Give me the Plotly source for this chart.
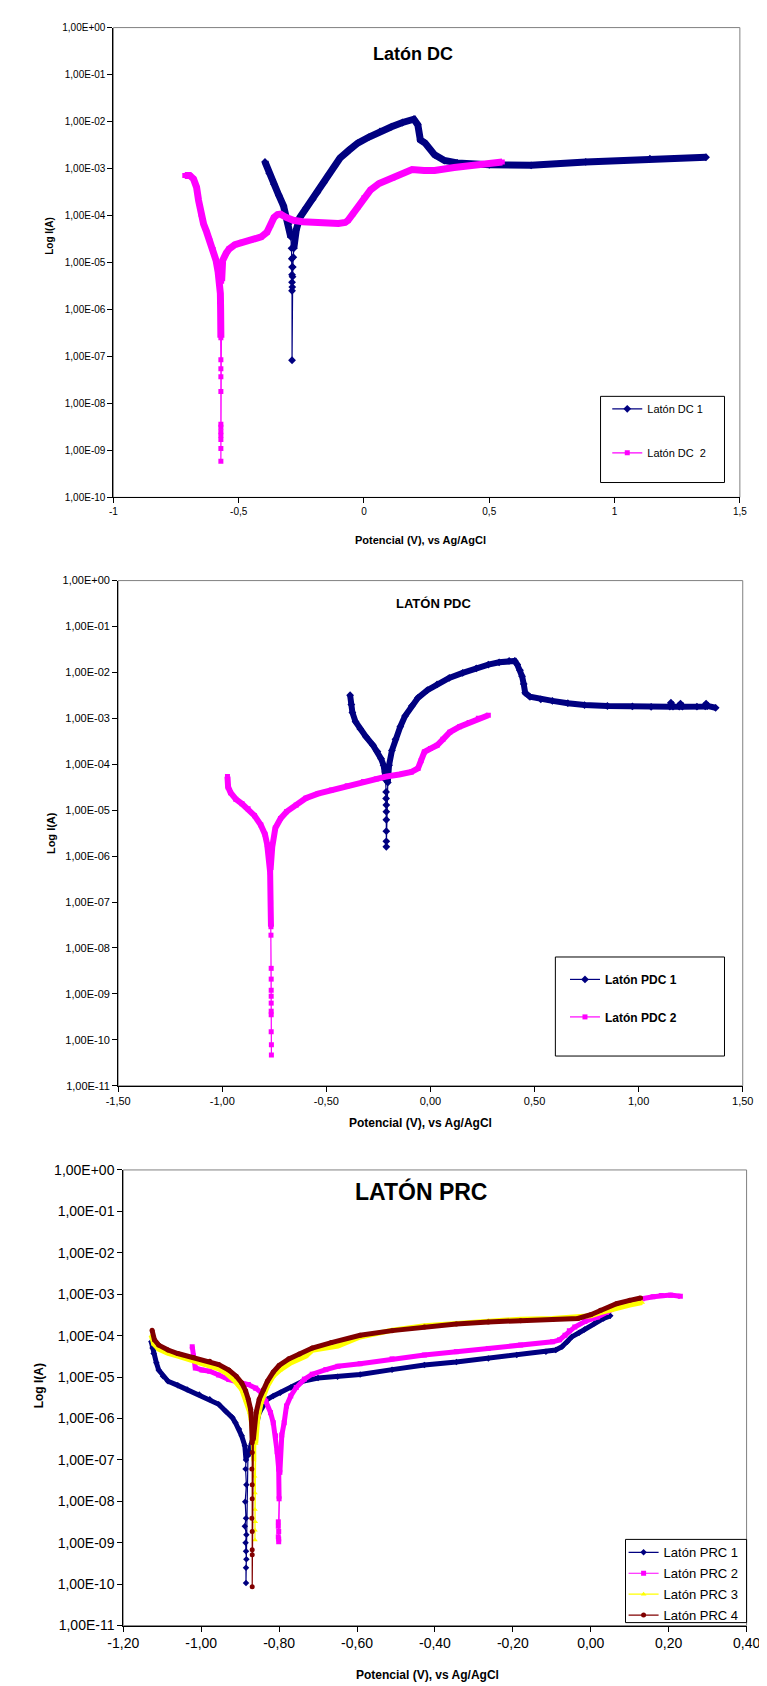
import plotly.graph_objects as go

# ---------------- DATA ----------------
# Chart 1: Latón DC
dc1_cat_E = [-0.395, -0.378, -0.359, -0.340, -0.321, -0.301, -0.292]
dc1_cat_I = [1.38e-3, 7.9e-4, 4.6e-4, 2.7e-4, 1.6e-4, 6.6e-5, 3.5e-5]
dc1_tail_E = [-0.289, -0.288, -0.287, -0.287, -0.287, -0.287, -0.287, -0.286, -0.285, -0.284, -0.282]
dc1_tail_I = [2.0e-5, 1.2e-5, 8.0e-6, 5.5e-6, 3.8e-6, 2.5e-6, 8.3e-8, 3.0e-6, 5.0e-6, 8.0e-6, 1.3e-5]
dc1_an_E = [-0.280, -0.270, -0.256, -0.230, -0.205, -0.186, -0.160, -0.141, -0.118, -0.096, -0.060,
            -0.025, 0.020, 0.064, 0.110, 0.154, 0.199, 0.215, 0.225, 0.244, 0.282, 0.321, 0.372,
            0.500, 0.667, 0.885, 1.141, 1.365]
dc1_an_I = [2.0e-5, 5.0e-5, 9.1e-5, 1.48e-4, 2.19e-4, 3.09e-4, 5.0e-4, 7.4e-4, 1.12e-3, 1.66e-3, 2.45e-3,
            3.47e-3, 4.68e-3, 6.17e-3, 7.76e-3, 9.55e-3, 1.12e-2, 8.5e-3, 4.07e-3, 3.47e-3, 1.95e-3, 1.48e-3, 1.32e-3,
            1.20e-3, 1.17e-3, 1.38e-3, 1.62e-3, 1.74e-3]

dc2_cat_E = [-0.715, -0.695, -0.680, -0.668, -0.660, -0.650, -0.640, -0.628, -0.615, -0.602, -0.590,
             -0.582, -0.576, -0.573, -0.572, -0.571]
dc2_cat_I = [7.1e-4, 7.1e-4, 6.0e-4, 4.0e-4, 2.1e-4, 1.07e-4, 6.6e-5, 4.5e-5, 2.9e-5, 1.9e-5, 1.1e-5,
             6.3e-6, 4.0e-6, 2.2e-6, 1.0e-6, 2.5e-7]
dc2_tail_E = [-0.571, -0.571, -0.571, -0.571, -0.571, -0.571, -0.571, -0.571, -0.571, -0.571, -0.571]
dc2_tail_I = [8.5e-8, 5.5e-8, 3.7e-8, 1.8e-8, 3.6e-9, 3.1e-9, 2.5e-9, 2.1e-9, 1.7e-9, 1.1e-9, 5.9e-10]
dc2_an_E = [-0.568, -0.564, -0.550, -0.538, -0.515, -0.487, -0.450, -0.410, -0.387, -0.372, -0.359,
            -0.345, -0.333, -0.310, -0.282, -0.245, -0.205, -0.150, -0.102, -0.075, -0.064, -0.045,
            -0.025, 0.000, 0.026, 0.060, 0.115, 0.192, 0.240, 0.282, 0.360, 0.436, 0.552]
dc2_an_I = [4.0e-6, 1.1e-5, 1.58e-5, 1.95e-5, 2.4e-5, 2.7e-5, 3.0e-5, 3.5e-5, 4.4e-5, 6.3e-5, 9.1e-5,
            1.05e-4, 1.07e-4, 9.1e-5, 7.9e-5, 7.4e-5, 7.1e-5, 6.8e-5, 6.8e-5, 7.1e-5, 7.8e-5, 1.07e-4,
            1.48e-4, 2.4e-4, 3.5e-4, 4.8e-4, 6.3e-4, 9.5e-4, 9.1e-4, 9.1e-4, 1.05e-3, 1.2e-3, 1.38e-3]

# Chart 2: Latón PDC
pdc1_cat_E = [-0.386, -0.380, -0.375, -0.360, -0.337, -0.310, -0.276, -0.255, -0.237, -0.225, -0.217, -0.214]
pdc1_cat_I = [3.2e-3, 2.0e-3, 1.35e-3, 8.5e-4, 5.9e-4, 4.0e-4, 2.6e-4, 1.9e-4, 1.32e-4, 9.5e-5, 6.8e-5, 4.5e-5]
pdc1_tail_E = [-0.213, -0.213, -0.212, -0.212, -0.212, -0.212, -0.212, -0.212]
pdc1_tail_I = [2.5e-5, 1.8e-5, 1.3e-5, 9.3e-6, 6.2e-6, 3.5e-6, 2.1e-6, 1.6e-6]
pdc1_an_E = [-0.205, -0.199, -0.185, -0.168, -0.145, -0.122, -0.090, -0.060, -0.015, 0.032, 0.090, 0.155,
             0.220, 0.278, 0.330, 0.378, 0.405, 0.417, 0.430, 0.440, 0.448, 0.455, 0.478, 0.530, 0.586,
             0.660, 0.740, 0.850, 0.970, 1.060, 1.150, 1.155, 1.165, 1.195, 1.201, 1.210, 1.280, 1.320,
             1.324, 1.330, 1.370]
pdc1_an_I = [4.0e-5, 9.5e-5, 2.0e-4, 3.5e-4, 6.6e-4, 1.12e-3, 1.86e-3, 2.8e-3, 4.1e-3, 5.5e-3, 7.6e-3, 9.8e-3,
             1.23e-2, 1.48e-2, 1.66e-2, 1.78e-2, 1.78e-2, 1.48e-2, 1.12e-2, 8.3e-3, 5.6e-3, 3.6e-3, 2.95e-3,
             2.6e-3, 2.4e-3, 2.14e-3, 1.95e-3, 1.86e-3, 1.82e-3, 1.78e-3, 1.80e-3, 2.2e-3, 1.80e-3, 1.80e-3,
             2.1e-3, 1.80e-3, 1.80e-3, 1.82e-3, 2.1e-3, 1.86e-3, 1.70e-3]

pdc2_cat_E = [-0.975, -0.972, -0.960, -0.935, -0.905, -0.876, -0.845, -0.815, -0.795, -0.784, -0.776,
              -0.770, -0.768, -0.766]
pdc2_cat_I = [5.4e-5, 3.2e-5, 2.4e-5, 1.74e-5, 1.38e-5, 1.07e-5, 7.6e-6, 4.8e-6, 3.0e-6, 1.78e-6, 1.0e-6,
              4.5e-7, 1.0e-7, 2.9e-8]
pdc2_tail_E = [-0.766, -0.765, -0.765, -0.765, -0.765, -0.765, -0.765, -0.765, -0.765, -0.764, -0.764]
pdc2_tail_I = [1.9e-8, 3.6e-9, 2.1e-9, 1.2e-9, 8.9e-10, 6.3e-10, 4.2e-10, 3.5e-10, 1.5e-10, 7.8e-11, 4.7e-11]
pdc2_an_E = [-0.768, -0.760, -0.745, -0.720, -0.691, -0.645, -0.599, -0.540, -0.476, -0.400, -0.322,
             -0.260, -0.214, -0.150, -0.091, -0.060, -0.045, -0.029, 0.000, 0.032, 0.060, 0.093, 0.140,
             0.186, 0.230, 0.278]
pdc2_an_I = [5.0e-7, 1.58e-6, 4.1e-6, 6.6e-6, 9.3e-6, 1.29e-5, 1.82e-5, 2.3e-5, 2.75e-5, 3.4e-5, 4.2e-5,
             4.8e-5, 5.4e-5, 6.0e-5, 6.8e-5, 8.1e-5, 1.2e-4, 1.86e-4, 2.2e-4, 2.6e-4, 3.5e-4, 5.0e-4, 6.6e-4,
             8.1e-4, 1.0e-3, 1.17e-3]

# Chart 3: Latón PRC
prc1_cat_E = [-1.128, -1.125, -1.122, -1.115, -1.109, -1.098, -1.085, -1.060, -1.036, -1.005, -0.978,
              -0.955, -0.937, -0.920, -0.912, -0.903, -0.896, -0.888, -0.885]
prc1_cat_I = [7.1e-5, 5.0e-5, 3.7e-5, 2.2e-5, 1.48e-5, 1.05e-5, 7.9e-6, 6.3e-6, 5.0e-6, 3.8e-6, 2.9e-6,
              2.2e-6, 1.5e-6, 1.05e-6, 7.9e-7, 5.6e-7, 3.8e-7, 2.2e-7, 1.0e-7]
prc1_tail_E = [-0.886, -0.884, -0.887, -0.885, -0.888, -0.884, -0.886, -0.885, -0.884, -0.885, -0.885]
prc1_tail_I = [6.0e-8, 2.5e-8, 9.8e-9, 3.9e-9, 2.5e-9, 1.55e-9, 1.0e-9, 6.2e-10, 4.0e-10, 2.5e-10, 1.07e-10]
prc1_an_E = [-0.880, -0.870, -0.863, -0.851, -0.840, -0.830, -0.815, -0.797, -0.770, -0.740, -0.700,
             -0.650, -0.592, -0.510, -0.427, -0.345, -0.263, -0.190, -0.115, -0.090, -0.074, -0.060,
             -0.049, -0.030, -0.016, 0.010, 0.033, 0.050]
prc1_an_I = [1.26e-7, 2.5e-7, 4.6e-7, 1.38e-6, 2.2e-6, 2.9e-6, 3.5e-6, 4.2e-6, 5.6e-6, 7.9e-6, 9.5e-6,
             1.02e-5, 1.15e-5, 1.51e-5, 1.95e-5, 2.3e-5, 2.8e-5, 3.4e-5, 4.1e-5, 4.5e-5, 5.4e-5, 7.1e-5,
             9.3e-5, 1.17e-4, 1.41e-4, 2.0e-4, 2.6e-4, 3.0e-4]

prc2_cat_E = [-1.023, -1.020, -1.015, -0.998, -0.978, -0.955, -0.929, -0.905, -0.879, -0.860, -0.846,
              -0.834, -0.822, -0.815, -0.809, -0.805, -0.801, -0.800]
prc2_cat_I = [5.4e-5, 3.2e-5, 1.66e-5, 1.48e-5, 1.38e-5, 1.12e-5, 8.7e-6, 7.6e-6, 6.6e-6, 5.4e-6, 4.2e-6,
              2.6e-6, 1.38e-6, 7.9e-7, 3.8e-7, 1.58e-7, 6.0e-8, 1.15e-8]
prc2_tail_E = [-0.802, -0.802, -0.801, -0.802, -0.801, -0.801]
prc2_tail_I = [3.2e-9, 2.5e-9, 1.86e-9, 1.4e-9, 1.23e-9, 1.05e-9]
prc2_an_E = [-0.798, -0.793, -0.787, -0.781, -0.770, -0.756, -0.735, -0.715, -0.680, -0.649, -0.592,
             -0.510, -0.427, -0.345, -0.263, -0.180, -0.098, -0.080, -0.066, -0.055, -0.041, -0.015,
             0.017, 0.040, 0.066, 0.100, 0.132, 0.160, 0.181, 0.205, 0.230]
prc2_an_I = [5.0e-8, 4.0e-7, 7.9e-7, 2.0e-6, 3.5e-6, 5.6e-6, 8.9e-6, 1.17e-5, 1.51e-5, 1.82e-5, 2.1e-5,
             2.75e-5, 3.4e-5, 4.1e-5, 4.9e-5, 5.9e-5, 7.1e-5, 7.9e-5, 1.02e-4, 1.32e-4, 1.62e-4, 2.2e-4,
             2.8e-4, 3.6e-4, 4.9e-4, 6.3e-4, 7.8e-4, 8.7e-4, 9.3e-4, 9.5e-4, 8.9e-4]

prc3_cat_E = [-1.128, -1.122, -1.109, -1.085, -1.060, -1.020, -0.978, -0.955, -0.937, -0.915, -0.896,
              -0.885, -0.875, -0.870, -0.867, -0.865]
prc3_cat_I = [1.0e-4, 6.3e-5, 4.7e-5, 3.7e-5, 3.2e-5, 2.5e-5, 1.95e-5, 1.58e-5, 1.26e-5, 8.3e-6, 5.0e-6,
              2.8e-6, 1.38e-6, 7.1e-7, 3.8e-7, 1.0e-7]
prc3_tail_E = [-0.863, -0.862, -0.862, -0.861, -0.862, -0.862]
prc3_tail_I = [4.0e-8, 1.58e-8, 6.3e-9, 3.2e-9, 2.0e-9, 1.17e-9]
prc3_an_E = [-0.860, -0.855, -0.846, -0.830, -0.815, -0.797, -0.770, -0.731, -0.715, -0.649, -0.592,
             -0.510, -0.427, -0.345, -0.263, -0.180, -0.098, -0.033, 0.000, 0.025, 0.066, 0.100, 0.132]
prc3_an_I = [2.5e-7, 9.5e-7, 2.4e-6, 6.0e-6, 1.05e-5, 1.48e-5, 2.2e-5, 3.2e-5, 4.4e-5, 5.6e-5, 9.3e-5,
             1.35e-4, 1.74e-4, 2.0e-4, 2.3e-4, 2.5e-4, 2.6e-4, 2.75e-4, 3.0e-4, 3.6e-4, 4.7e-4, 5.5e-4, 6.3e-4]

prc4_cat_E = [-1.126, -1.120, -1.109, -1.085, -1.060, -1.020, -0.978, -0.955, -0.929, -0.910, -0.896,
              -0.886, -0.879, -0.873, -0.871, -0.869]
prc4_cat_I = [1.35e-4, 7.9e-5, 5.9e-5, 4.5e-5, 3.7e-5, 2.95e-5, 2.4e-5, 2.0e-5, 1.48e-5, 1.05e-5, 7.2e-6,
              4.7e-6, 2.9e-6, 1.66e-6, 9.5e-7, 2.6e-7]
prc4_tail_E = [-0.869, -0.870, -0.869, -0.869, -0.870, -0.869, -0.869, -0.869, -0.869]
prc4_tail_I = [1.5e-7, 6.0e-8, 2.5e-8, 1.15e-8, 3.9e-9, 1.86e-9, 6.8e-10, 5.1e-10, 8.7e-11]
prc4_an_E = [-0.866, -0.859, -0.851, -0.840, -0.830, -0.815, -0.800, -0.775, -0.748, -0.715, -0.666,
             -0.592, -0.510, -0.427, -0.345, -0.263, -0.180, -0.098, -0.033, 0.000, 0.025, 0.066, 0.100, 0.128]
prc4_an_I = [3.2e-7, 1.38e-6, 2.9e-6, 5.0e-6, 7.9e-6, 1.32e-5, 1.9e-5, 2.75e-5, 3.6e-5, 5.0e-5, 6.8e-5,
             1.02e-4, 1.32e-4, 1.62e-4, 1.9e-4, 2.14e-4, 2.3e-4, 2.45e-4, 2.6e-4, 3.2e-4, 4.1e-4, 5.9e-4,
             7.1e-4, 8.1e-4]

# tick labels
x1_ticks = [-1, -0.5, 0, 0.5, 1, 1.5]
x1_text = ["-1", "-0,5", "0", "0,5", "1", "1,5"]
x2_ticks = [-1.5, -1.0, -0.5, 0.0, 0.5, 1.0, 1.5]
x2_text = ["-1,50", "-1,00", "-0,50", "0,00", "0,50", "1,00", "1,50"]
x3_ticks = [-1.2, -1.0, -0.8, -0.6, -0.4, -0.2, 0.0, 0.2, 0.4]
x3_text = ["-1,20", "-1,00", "-0,80", "-0,60", "-0,40", "-0,20", "0,00", "0,20", "0,40"]
y_exp = list(range(0, -12, -1))
y_ticks = [10.0 ** e for e in y_exp]
y_text = ["1,00E+00"] + ["1,00E-%02d" % (-e) for e in y_exp[1:]]

# ---------------- FIGURE ----------------
W, H = 767, 1686
FONT = "Liberation Sans, Arial, sans-serif"
NAVY, MAG, YEL, BRN = "#000080", "#FF00FF", "#FFFF00", "#800000"

fig = go.Figure()


def add_series(name, cat, tail, an, color, symbol, msize, band, xa, ya, legend, group):
    cE, cI = cat
    tE, tI = tail
    aE, aI = an
    for E, I in ((cE, cI), (aE, aI)):
        fig.add_trace(go.Scatter(x=E, y=I, mode="lines", xaxis=xa, yaxis=ya,
                                 line=dict(color=color, width=band), showlegend=False,
                                 hoverinfo="skip", legendgroup=group))
    fig.add_trace(go.Scatter(x=cE + tE + aE, y=cI + tI + aI, mode="lines+markers", name=name,
                             xaxis=xa, yaxis=ya, legend=legend, legendgroup=group,
                             line=dict(color=color, width=1.2),
                             marker=dict(color=color, symbol=symbol, size=msize)))


add_series("Latón DC 1", (dc1_cat_E, dc1_cat_I), (dc1_tail_E, dc1_tail_I), (dc1_an_E, dc1_an_I),
           NAVY, "diamond", 6, 7, "x", "y", "legend", "a1")
add_series("Latón DC  2", (dc2_cat_E, dc2_cat_I), (dc2_tail_E, dc2_tail_I), (dc2_an_E, dc2_an_I),
           MAG, "square", 5, 7, "x", "y", "legend", "a2")
add_series("Latón PDC 1", (pdc1_cat_E, pdc1_cat_I), (pdc1_tail_E, pdc1_tail_I), (pdc1_an_E, pdc1_an_I),
           NAVY, "diamond", 6, 6, "x2", "y2", "legend2", "b1")
add_series("Latón PDC 2", (pdc2_cat_E, pdc2_cat_I), (pdc2_tail_E, pdc2_tail_I), (pdc2_an_E, pdc2_an_I),
           MAG, "square", 5, 6, "x2", "y2", "legend2", "b2")
add_series("Latón PRC 1", (prc1_cat_E, prc1_cat_I), (prc1_tail_E, prc1_tail_I), (prc1_an_E, prc1_an_I),
           NAVY, "diamond", 5, 5, "x3", "y3", "legend3", "c1")
add_series("Latón PRC 2", (prc2_cat_E, prc2_cat_I), (prc2_tail_E, prc2_tail_I), (prc2_an_E, prc2_an_I),
           MAG, "square", 5, 5, "x3", "y3", "legend3", "c2")
add_series("Latón PRC 3", (prc3_cat_E, prc3_cat_I), (prc3_tail_E, prc3_tail_I), (prc3_an_E, prc3_an_I),
           YEL, "triangle-up", 5, 5, "x3", "y3", "legend3", "c3")
add_series("Latón PRC 4", (prc4_cat_E, prc4_cat_I), (prc4_tail_E, prc4_tail_I), (prc4_an_E, prc4_an_I),
           BRN, "circle", 5, 5, "x3", "y3", "legend3", "c4")


def px_dom(a, b, total, flip=False):
    if flip:
        return [1 - b / total, 1 - a / total]
    return [a / total, b / total]


def xaxis(dom, rng, tv, tt, fs, anchor):
    return dict(domain=dom, range=rng, tickvals=tv, ticktext=tt, showgrid=False, zeroline=False,
                showline=True, linecolor="black", linewidth=1, ticks="outside", ticklen=5,
                tickcolor="black", tickfont=dict(family=FONT, size=fs, color="black"), anchor=anchor,
                fixedrange=True)


def yaxis(dom, lo, fs, anchor):
    n = -lo + 1
    return dict(domain=dom, type="log", range=[lo, 0], tickvals=y_ticks[:n], ticktext=y_text[:n],
                showgrid=False, zeroline=False, showline=True, linecolor="black", linewidth=1,
                ticks="outside", ticklen=5, tickcolor="black",
                tickfont=dict(family=FONT, size=fs, color="black"), anchor=anchor, fixedrange=True)


fig.update_layout(
    width=W, height=H, margin=dict(l=0, r=0, t=0, b=0),
    paper_bgcolor="white", plot_bgcolor="white", showlegend=True,
    xaxis=xaxis(px_dom(93, 745, W), [-1, 1.5], x1_ticks, x1_text, 10, "y"),
    yaxis=yaxis(px_dom(11.7, 486, H, True), -10, 10, "x"),
    xaxis2=xaxis(px_dom(98, 748, W), [-1.5, 1.5], x2_ticks, x2_text, 11, "y2"),
    yaxis2=yaxis(px_dom(570, 1080, H, True), -11, 11, "x2"),
    xaxis3=xaxis(px_dom(103.3, 752, W), [-1.2, 0.4], x3_ticks, x3_text, 14, "y3"),
    yaxis3=yaxis(px_dom(1165, 1625, H, True), -11, 14, "x3"),
    legend=dict(x=607 / W, y=1 - 382 / H, xanchor="left", yanchor="top", bgcolor="rgba(0,0,0,0)",
                font=dict(family=FONT, size=11, color="black"), tracegroupgap=25, traceorder="grouped"),
    legend2=dict(x=563 / W, y=1 - 958 / H, xanchor="left", yanchor="top", bgcolor="rgba(0,0,0,0)",
                 font=dict(family=FONT, size=12, color="black", weight="bold"), tracegroupgap=18.5,
                 traceorder="grouped"),
    legend3=dict(x=624 / W, y=1 - 1536 / H, xanchor="left", yanchor="top", bgcolor="rgba(0,0,0,0)",
                 font=dict(family=FONT, size=13, color="black"), tracegroupgap=1, traceorder="grouped"),
)

shapes = []
for xr, yr in (("x", "y"), ("x2", "y2"), ("x3", "y3")):
    shapes.append(dict(type="rect", xref=xr + " domain", yref=yr + " domain", x0=0, x1=1, y0=0, y1=1,
                       line=dict(color="#808080", width=1), layer="below"))
for (x0, x1, y0, y1) in ((600, 729, 384, 471), (553, 729, 950, 1050), (626, 752, 1538, 1622)):
    shapes.append(dict(type="rect", xref="paper", yref="paper", x0=x0 / W, x1=x1 / W,
                       y0=1 - y1 / H, y1=1 - y0 / H, line=dict(color="black", width=1)))
fig.update_layout(shapes=shapes)


def ann(text, x, y, size, bold=True, angle=0):
    fig.add_annotation(text=("<b>%s</b>" % text) if bold else text, x=x / W, y=1 - y / H,
                       xref="paper", yref="paper", showarrow=False, textangle=angle,
                       font=dict(family=FONT, size=size, color="black"),
                       xanchor="center", yanchor="middle")


ann("Latón DC", 405, 38, 18)
ann("Log I(A)", 27, 222, 10, angle=-90)
ann("Potencial (V), vs Ag/AgCl", 413, 529, 11)
ann("LATÓN PDC", 426, 593, 13)
ann("Log I(A)", 28, 825, 11, angle=-90)
ann("Potencial (V), vs Ag/AgCl", 413, 1118, 12)
ann("LATÓN PRC", 413, 1187, 23)
ann("Log I(A)", 15, 1383, 12, angle=-90)
ann("Potencial (V), vs Ag/AgCl", 420, 1675, 12)

fig.write_html("out.html")
